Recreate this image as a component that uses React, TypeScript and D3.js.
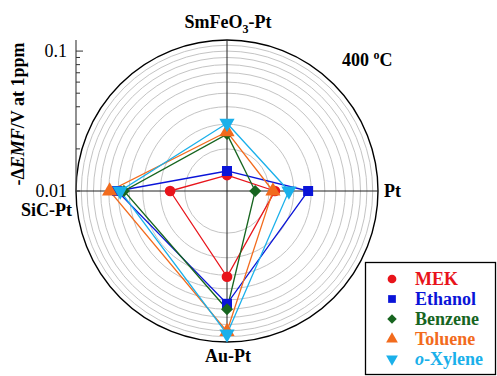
import * as d3 from "d3";
import { useEffect, useRef } from "react";

// axes go clockwise from the top
const electrodes = ["SmFeO3-Pt", "Pt", "Au-Pt", "SiC-Pt"];
const gases = ["MEK", "Ethanol", "Benzene", "Toluene", "o-Xylene"];
const colors = ["#e8141b", "#0a14d8", "#17651f", "#f26b1d", "#1ab0ea"];

// -dEMF / V at 1 ppm, order: SmFeO3-Pt, Pt, Au-Pt, SiC-Pt
const mekValues = [0.0130, 0.0220, 0.0410, 0.0255];
const ethanolValues = [0.0139, 0.0380, 0.0640, 0.0610];
const benzeneValues = [0.0255, 0.0159, 0.0700, 0.0545];
const tolueneValues = [0.0265, 0.0213, 0.1010, 0.0690];
const xyleneValues = [0.0305, 0.0277, 0.1050, 0.0580];
const seriesValues = [mekValues, ethanolValues, benzeneValues, tolueneValues, xyleneValues];

const gridValues = [0.02, 0.03, 0.04, 0.05, 0.06, 0.07, 0.08, 0.09, 0.1, 0.11];
const tickValues = [0.01, 0.02, 0.03, 0.04, 0.05, 0.06, 0.07, 0.08, 0.09, 0.1];
const tickLabels = ["0.01", "0.1"];

const W = 497;
const H = 376;

export default function App() {
  const svgRef = useRef<SVGSVGElement | null>(null);

  useEffect(() => {
    if (!svgRef.current) return;
    const svg = d3.select(svgRef.current);
    svg.selectAll("*").remove();

    const cx = 227;
    const cy = 191;
    const R = 151;
    const font = "'Liberation Serif', 'Times New Roman', serif";

    const r = d3.scaleLog().domain([0.01, 0.12]).range([0, R]);
    const angle = d3
      .scalePoint<string>()
      .domain(electrodes)
      .range([0, (Math.PI * 3) / 2]);

    const g = svg.append("g").attr("transform", `translate(${cx},${cy})`);

    g.selectAll("circle.grid")
      .data(gridValues)
      .join("circle")
      .attr("class", "grid")
      .attr("r", (d) => r(d))
      .attr("fill", "none")
      .attr("stroke", "#c4c4c4")
      .attr("stroke-width", 1);

    g.append("circle")
      .attr("r", R)
      .attr("fill", "none")
      .attr("stroke", "#000")
      .attr("stroke-width", 1.4);

    // cross hairs
    g.append("line").attr("x1", -R).attr("x2", R).attr("y1", 0).attr("y2", 0)
      .attr("stroke", "#222").attr("stroke-width", 1);
    g.append("line").attr("x1", 0).attr("x2", 0).attr("y1", -R).attr("y2", R)
      .attr("stroke", "#222").attr("stroke-width", 1);

    // radial value axis on the left, tangent to the circle
    const yAxisScale = d3.scaleLog().domain([0.01, 0.12]).range([cy, cy - R]);
    const axisG = svg.append("g").attr("transform", `translate(${cx - R},0)`);
    axisG.append("line").attr("x1", 0).attr("x2", 0).attr("y1", cy).attr("y2", cy - R)
      .attr("stroke", "#555").attr("stroke-width", 1.3);
    axisG.selectAll("line.tick")
      .data(tickValues)
      .join("line")
      .attr("class", "tick")
      .attr("x1", 0)
      .attr("x2", (d) => (d === 0.1 ? 7 : 4))
      .attr("y1", (d) => yAxisScale(d))
      .attr("y2", (d) => yAxisScale(d))
      .attr("stroke", "#333")
      .attr("stroke-width", 1);
    axisG.selectAll("text")
      .data([0.01, 0.1])
      .join("text")
      .attr("x", -9)
      .attr("y", (d) => yAxisScale(d))
      .attr("dy", "0.33em")
      .attr("text-anchor", "end")
      .attr("font-family", font)
      .attr("font-size", 18)
      .text((_, i) => tickLabels[i]);

    const radial = d3
      .lineRadial<number>()
      .angle((_, i) => angle(electrodes[i]) ?? 0)
      .radius((d) => r(d))
      .curve(d3.curveLinearClosed);

    // diamond = square turned 45deg, o-xylene = triangle turned 180deg
    const symbols = [d3.symbolCircle, d3.symbolSquare, d3.symbolSquare, d3.symbolTriangle, d3.symbolTriangle];
    const turns = [0, 0, 45, 0, 180];
    const sizes = [90, 100, 72, 100, 100];

    seriesValues.forEach((vals, si) => {
      g.append("path")
        .attr("d", radial(vals))
        .attr("fill", "none")
        .attr("stroke", colors[si])
        .attr("stroke-width", 1.3);
    });

    seriesValues.forEach((vals, si) => {
      g.selectAll(`path.m${si}`)
        .data(vals)
        .join("path")
        .attr("class", `m${si}`)
        .attr("d", d3.symbol(symbols[si], sizes[si])())
        .attr("transform", (d, i) => {
          const a = angle(electrodes[i]) ?? 0;
          const x = r(d) * Math.sin(a);
          const y = -r(d) * Math.cos(a);
          return `translate(${x},${y}) rotate(${turns[si]})`;
        })
        .attr("fill", colors[si]);
    });

    const bold = (sel: d3.Selection<SVGTextElement, unknown, null, undefined>) =>
      sel.attr("font-family", font).attr("font-size", 18).attr("font-weight", "bold");

    // electrode labels
    const top = bold(svg.append("text").attr("x", cx + 1).attr("y", 28).attr("text-anchor", "middle"));
    top.append("tspan").text("SmFeO");
    top.append("tspan").attr("font-size", 12).attr("dy", 5).text("3");
    top.append("tspan").attr("dy", -5).text("-Pt");

    bold(svg.append("text").attr("x", 384).attr("y", 197)).text(electrodes[1]);
    bold(svg.append("text").attr("x", cx + 1).attr("y", 362).attr("text-anchor", "middle")).text(electrodes[2]);
    bold(svg.append("text").attr("x", 72).attr("y", 216).attr("text-anchor", "end")).text(electrodes[3]);

    const temp = bold(svg.append("text").attr("x", 342).attr("y", 66));
    temp.append("tspan").text("400 ");
    temp.append("tspan").attr("font-size", 12).attr("dy", -7).text("o");
    temp.append("tspan").attr("dy", 7).text("C");

    // y title
    const yt = bold(
      svg.append("text")
        .attr("transform", `translate(24,${114}) rotate(-90)`)
        .attr("text-anchor", "middle"),
    );
    yt.append("tspan").text("-\u0394");
    yt.append("tspan").attr("font-style", "italic").text("EMF");
    yt.append("tspan").text("/V at 1ppm");

    // legend
    const lg = svg.append("g");
    lg.append("rect")
      .attr("x", 365.5)
      .attr("y", 262.5)
      .attr("width", 130)
      .attr("height", 112)
      .attr("fill", "#fff")
      .attr("stroke", "#000")
      .attr("stroke-width", 1.3);
    const rowY = d3.scaleLinear().domain([0, 4]).range([279, 359]);
    gases.forEach((name, i) => {
      lg.append("path")
        .attr("d", d3.symbol(symbols[i], i === 2 ? 45 : 60)())
        .attr("transform", `translate(392,${rowY(i)}) rotate(${turns[i]})`)
        .attr("fill", colors[i]);
      const t = bold(lg.append("text").attr("x", 415).attr("y", rowY(i)).attr("dy", "0.35em"))
        .attr("fill", colors[i]);
      if (name.startsWith("o-")) {
        t.append("tspan").attr("font-style", "italic").text("o");
        t.append("tspan").text(name.slice(1));
      } else {
        t.text(name);
      }
    });
  }, []);

  return (
    <svg
      ref={svgRef}
      width={W}
      height={H}
      style={{ position: "absolute", left: 0, top: 0, background: "#fff" }}
    />
  );
}
